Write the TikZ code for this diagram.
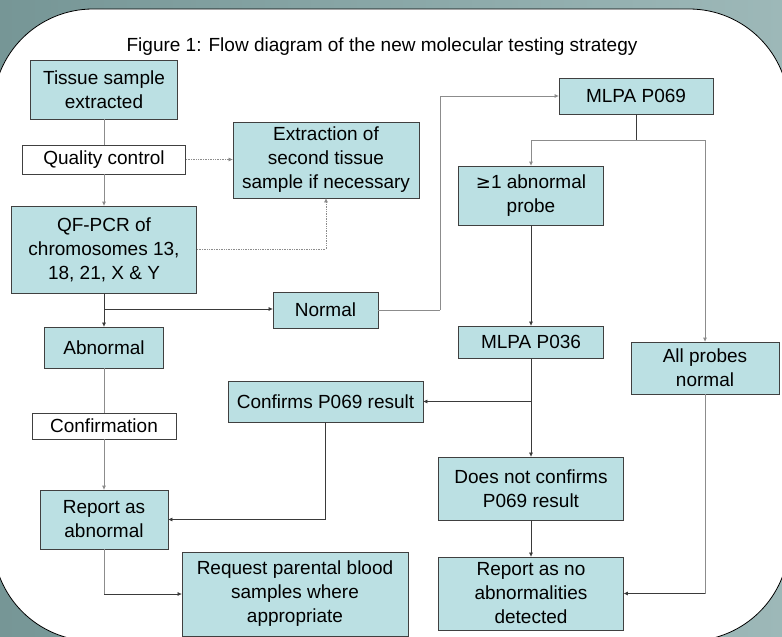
\documentclass[tikz,border=0pt]{standalone}
\usepackage{fontspec}
\setmainfont{Liberation Sans}
\usetikzlibrary{arrows.meta,calc}
\definecolor{boxfill}{HTML}{BBE0E3}
\definecolor{boxline}{HTML}{404040}
\definecolor{bgl}{HTML}{769696}
\definecolor{bgr}{HTML}{9DB8B8}
\definecolor{lndark}{HTML}{3A3A3A}
\definecolor{lngray}{HTML}{8C8C8C}
\tikzset{
  bx/.style={draw=boxline, fill=boxfill, line width=0.8pt, rectangle, inner sep=0pt, align=center,
    font=\fontsize{19}{24}\selectfont},
  wbx/.style={bx, fill=white},
  ln/.style={draw=lndark, line width=0.7pt},
  lg/.style={draw=lngray, line width=0.8pt},
  ar/.style={-{Triangle[length=4pt,width=3.5pt]}},
  dt/.style={draw=lngray, line width=0.7pt, densely dotted}
}
\begin{document}
\begin{tikzpicture}[x=1pt,y=-1pt]
\useasboundingbox (0,0) rectangle (782,637);
\shade[left color=bgl, right color=bgr] (0,0) rectangle (782,637);
\draw[fill=white, line width=0.8pt, rounded corners=100pt] (-7,9) rectangle (789,641);

\node[font=\fontsize{19}{24}\selectfont] (title) at (382,47) {Figure 1: Flow diagram of the new molecular testing strategy};

\node[bx, minimum width=147pt, minimum height=59pt] (tissue) at (104,89.5) {Tissue sample\\extracted};
\node[wbx, minimum width=163pt, minimum height=29pt] (qc) at (104,159.5) {Quality control};
\node[bx, minimum width=186pt, minimum height=76pt] (extr) at (326,160) {Extraction of\\second tissue\\sample if necessary};
\node[bx, minimum width=185pt, minimum height=87pt] (qf) at (104,249.5) {QF-PCR of\\chromosomes 13,\\18, 21, X \& Y};
\node[bx, minimum width=105pt, minimum height=36pt] (normal) at (325.5,310) {Normal};
\node[bx, minimum width=119pt, minimum height=41pt] (abn) at (104,347.5) {Abnormal};
\node[wbx, minimum width=144pt, minimum height=26pt] (conf) at (104,426) {Confirmation};
\node[bx, minimum width=128pt, minimum height=59pt] (repab) at (104,519.5) {Report as\\abnormal};
\node[bx, minimum width=195pt, minimum height=41pt] (confirms) at (325.5,401.5) {Confirms P069 result};
\node[bx, minimum width=226pt, minimum height=84pt] (request) at (295,594) {Request parental blood\\samples where\\appropriate};
\node[bx, minimum width=154pt, minimum height=36pt] (p069) at (636,96) {MLPA P069};
\node[bx, minimum width=145pt, minimum height=59pt] (ge1) at (531,195.5) {\fontspec{DejaVu Sans}\fontsize{18}{24}\selectfont ≥\fontspec{Liberation Sans}\fontsize{19}{24}\selectfont 1 abnormal\\probe};
\node[bx, minimum width=145pt, minimum height=32pt] (p036) at (531,342) {MLPA P036};
\node[bx, minimum width=148pt, minimum height=52pt] (allp) at (705,368) {All probes\\normal};
\node[bx, minimum width=185pt, minimum height=63pt] (dnc) at (531,488.5) {Does not confirms\\P069 result};
\node[bx, minimum width=185pt, minimum height=73pt] (repno) at (531,593.5) {Report as no\\abnormalities\\detected};

\coordinate (nk) at (440,310);
\coordinate (pj) at (636,140);
\coordinate (qj) at (104,309);
\coordinate (mj) at (531,401.5);

% left column
\draw[lg] (tissue) -- (qc);
\draw[lg,ar] (qc) -- (qf);
\draw[dt,ar] (qc.east) -- (qc.east -| extr.west);
\draw[dt,ar] (qf.east |- 0,249) -| (extr.south);
\draw[ln,ar] (qf.south) -- (abn.north);
\draw[ln,ar] (qj) -- (qj -| normal.west);
\draw[lg] (abn) -- (conf);
\draw[lg,ar] (conf) -- (repab);
\draw[ln,ar] (confirms.south) |- (repab.east);
\draw[lg] (repab.south) -- (repab.south |- request.west);
\draw[ln,ar] (repab.south |- request.west) -- (request.west);

% right part
\draw[lg] (normal.east) -- (nk);
\draw[lg,ar] (nk) |- (p069.west);
\draw[ln] (p069.south) -- (pj);
\draw[lg,ar] (pj) -| (ge1.north);
\draw[lg,ar] (pj) -| (allp.north);
\draw[ln,ar] (ge1) -- (p036);
\draw[ln,ar] (p036) -- (dnc);
\draw[ln,ar] (mj) -- (confirms.east);
\draw[ln,ar] (dnc) -- (repno);
\draw[lg] (allp.south) -- (allp.south |- repno.east);
\draw[ln,ar] (allp.south |- repno.east) -- (repno.east);
\end{tikzpicture}
\end{document}
